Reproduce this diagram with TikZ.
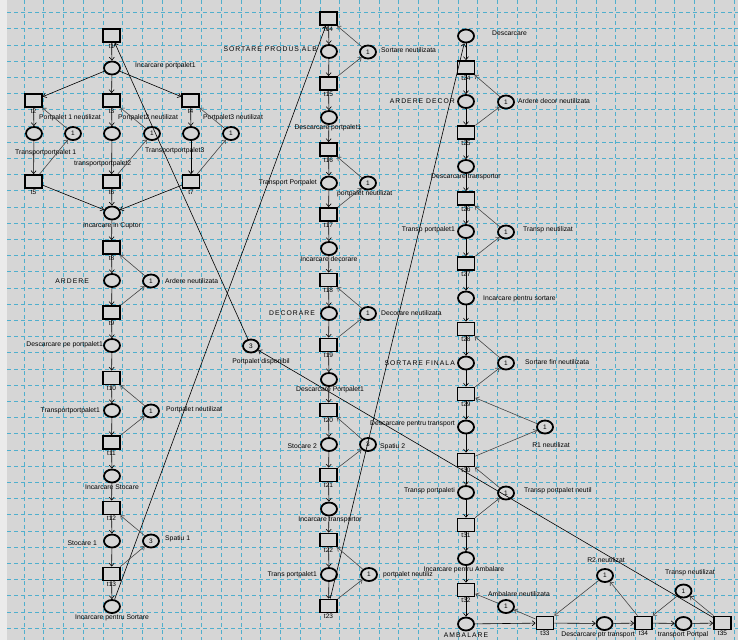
\documentclass[tikz,border=0pt]{standalone}
\usepackage{fontspec}
\setmainfont{Liberation Sans}
\usepackage{tikz}
\usetikzlibrary{shapes.geometric,arrows.meta,positioning}
\definecolor{BgGray}{RGB}{214,214,214}
\definecolor{GridBlue}{RGB}{80,175,205}
\definecolor{ResGray}{RGB}{70,70,70}

\tikzset{
  place/.style={ellipse,draw,fill=BgGray,line width=1.8pt,minimum width=16pt,minimum height=13pt,inner sep=0pt,
    font=\fontsize{6.5}{7}\selectfont},
  trans/.style={rectangle,draw,fill=BgGray,line width=1.8pt,minimum width=17pt,minimum height=13pt,inner sep=0pt},
  tlab/.style={font=\fontsize{6.5}{7}\selectfont,inner sep=0.6pt},
  lab/.style={font=\fontsize{6.8}{8}\selectfont,inner sep=0pt},
  caps/.style={lab,font=\fontsize{6.8}{8}\selectfont\addfontfeature{LetterSpace=15}},
  arc/.style={-{Straight Barb[length=3pt,width=5pt]},line width=0.6pt},
  rarc/.style={arc,ResGray},
  gridline/.style={GridBlue,line width=0.6pt,dash pattern=on 4pt off 3pt}
}

\begin{document}
\begin{tikzpicture}[x=1pt,y=-1pt]
\useasboundingbox(0,0)rectangle(738,640);
\fill[BgGray](0,0)rectangle(738,640);
\fill[black!8](0,0)rectangle(7,640);
\foreach \i in {0,...,36}{
  \draw[gridline]({24+19.72*\i},0)--++(0,640);
}
\foreach \i in {0,...,38}{
  \draw[gridline](7,{12.5+16.2*\i})--(738,{12.5+16.2*\i});
}

% transitions
\foreach \n/\x/\y in {1/111.5/35.5,2/33.5/100.5,3/111.5/100.5,4/190.5/100.5,5/33.5/181.5,6/111.5/181.5,
  7/191/181.5,8/111.5/247.5,9/111.5/312.5,10/111.5/378,11/111.5/442.5,12/111.5/508,13/111.5/574,
  14/328.5/18.5,15/328.5/83.5,16/328.5/149.5,17/328.5/214.5,18/328.5/280,19/328.5/345,20/328.5/410,
  21/328.5/475,22/328.5/540,23/328.5/606,
  24/466/67.5,25/466/132.5,26/466/198.5,27/466/263.5,28/466/329,29/466/394,30/466/460,31/466/525,
  32/466/590,33/545/623,34/643.5/623,35/722.5/623}{
  \node[trans,label={[tlab]below:t\n}](t\n)at(\x,\y){};
}

% places, column 1
\node[place](pIncPp)at(112,68){};
\node[place](pTr1)at(34,133.5){};
\node[place](pTr2)at(112,133.5){};
\node[place](pTr3)at(191,133.5){};
\node[place](rPp1)at(73,133.5){1};
\node[place](rPp2)at(152,133.5){1};
\node[place](rPp3)at(231,133.5){1};
\node[place](pCuptor)at(112,213){};
\node[place](pArd)at(112,280.5){};
\node[place](rArd)at(151,281){1};
\node[place](pDesc)at(112,345.5){};
\node[place](pTrp)at(112,410.5){};
\node[place](rPp)at(151,411){1};
\node[place](pIncSt)at(112,476){};
\node[place](pSt1)at(112,541){};
\node[place](rSp1)at(151,541){3};
\node[place](pIncSort)at(112,606.5){};
\node[place](rPpDisp)at(251,346){3};
% places, column 2
\node[place](pSortAlb)at(329,51.5){};
\node[place](rSort)at(368,52){1};
\node[place](pDescPp)at(329,117.5){};
\node[place](pTrPp)at(329,183){};
\node[place](rPpB)at(368,183){1};
\node[place](pIncDec)at(329,248.5){};
\node[place](pDec)at(329,313.5){};
\node[place](rDec)at(368,313.5){1};
\node[place](pDescPpB)at(329,379.5){};
\node[place](pSt2)at(329,444.5){};
\node[place](rSp2)at(368,444.5){3};
\node[place](pIncTr)at(329,509){};
\node[place](pTransPp)at(329,574.5){};
\node[place](rPpC)at(369,574.5){1};
% places, column 3
\node[place](pDescC)at(466,36){};
\node[place](pArdDec)at(466,101.5){};
\node[place](rArdDec)at(506,102){1};
\node[place](pDescTr)at(466,166.5){};
\node[place](pTrpPp)at(466,231.5){};
\node[place](rTrp)at(506,232){1};
\node[place](pIncSortB)at(466,298){};
\node[place](pSortFin)at(466,363){};
\node[place](rSortFin)at(506,363){1};
\node[place](pDescTrp)at(466,427){};
\node[place](rR1)at(545,427){1};
\node[place](pTrpPps)at(466,492.5){};
\node[place](rTrpPp)at(506,493){1};
\node[place](pIncAmb)at(466,558.5){};
\node[place](pAmb)at(466,624){};
\node[place](rAmb)at(506,606.5){1};
\node[place](pDescPtr)at(604.5,623.5){};
\node[place](rR2)at(605,575.5){1};
\node[place](pTrpPal)at(683.5,623.5){};
\node[place](rTrpB)at(683.5,591){1};

% labels
\node[lab,anchor=west](lIncPp)at(135,66){Incarcare portpalet1};
\node[lab,anchor=west](lRPp1)at(39,118){Portpalet 1 neutilizat};
\node[lab,anchor=west](lRPp2)at(118,118){Portpalet2 neutilizat};
\node[lab,anchor=west](lRPp3)at(203,118){Portpalet3 neutilizat};
\node[lab,anchor=west](lTr1)at(15,153){Transportportpalet 1};
\node[lab,anchor=west](lTr2)at(74,164){transportportpalet2};
\node[lab,anchor=west](lTr3)at(145,151){Transportportpalet3};
\node[lab](lCuptor)at(112,226){Incarcare in Cuptor};
\node[caps,anchor=east](lArd)at(89,281){ARDERE};
\node[lab,anchor=west](lRArd)at(165,281){Ardere neutilizata};
\node[lab,anchor=east](lDesc)at(103,345){Descarcare pe portpalet1};
\node[lab,anchor=east](lTrp)at(100,411){Transportportpalet1};
\node[lab,anchor=west](lRPp)at(166,410){Portpalet neutilizat};
\node[lab](lIncSt)at(112,487){Incarcare Stocare};
\node[lab,anchor=east](lSt1)at(97,543){Stocare 1};
\node[lab,anchor=west](lSp1)at(165,539){Spatiu 1};
\node[lab](lIncSort)at(112,618){Incarcare pentru Sortare};
\node[lab](lPpDisp)at(261,362){Portpalet disponibil};
\node[caps,anchor=east](lSortAlb)at(317,49){SORTARE PRODUS ALB};
\node[lab,anchor=west](lRSort)at(381,50){Sortare neutilizata};
\node[lab](lDescPp)at(328,128){Descarcare portpalet1};
\node[lab,anchor=east](lTrPp)at(317,183){Transport Portpalet};
\node[lab,anchor=west](lRPpB)at(337,194){portpalet neutilizat};
\node[lab](lIncDec)at(329,259){Incarcare decorare};
\node[caps,anchor=east](lDec)at(315,313){DECORARE};
\node[lab,anchor=west](lRDec)at(381,313){Decorare neutilizata};
\node[lab](lDescPpB)at(330,390){Descarcare Portpalet1};
\node[lab,anchor=east](lSt2)at(317,446){Stocare 2};
\node[lab,anchor=west](lSp2)at(380,447){Spatiu 2};
\node[lab](lIncTr)at(330,520){Incarcare transportor};
\node[lab,anchor=east](lTransPp)at(317,575){Trans portpalet1};
\node[lab,anchor=west](lRPpC)at(383,575){portpalet neutiliz};
\node[lab,anchor=west](lDescC)at(492,33){Descarcare};
\node[caps,anchor=east](lArdDec)at(455,101){ARDERE DECOR};
\node[lab,anchor=west](lRArdDec)at(518,101){Ardere decor neutilizata};
\node[lab](lDescTr)at(466,177){Descarcare transportor};
\node[lab,anchor=east](lTrpPp)at(455,230){Transp portpalet1};
\node[lab,anchor=west](lRTrp)at(523,230){Transp neutilizat};
\node[lab,anchor=west](lIncSortB)at(483,299){Incarcare pentru sortare};
\node[caps,anchor=east](lSortFin)at(455,363){SORTARE FINALA};
\node[lab,anchor=west](lRSortFin)at(525,362){Sortare fin neutilizata};
\node[lab,anchor=east](lDescTrp)at(455,424){Descarcare pentru transport};
\node[lab](lR1)at(551,445){R1 neutilizat};
\node[lab,anchor=east](lTrpPps)at(455,491){Transp portpaleti};
\node[lab,anchor=west](lRTrpPp)at(524,491){Transp portpalet neutil};
\node[lab](lIncAmb)at(464,570){Incarcare pentru Ambalare};
\node[caps](lAmb)at(466,635){AMBALARE};
\node[lab,anchor=west](lRAmb)at(488,594){Ambalare neutilizata};
\node[lab](lDescPtr)at(598,635){Descarcare ptr transport};
\node[lab](lR2)at(606,560){R2 neutilizat};
\node[lab](lTrpPal)at(683,635){transport Portpal};
\node[lab](lRTrpB)at(690,573){Transp neutilizat};

% flow arcs
\foreach \a/\b in {t1/pIncPp,pIncPp/t2,pIncPp/t3,pIncPp/t4,t2/pTr1,t3/pTr2,t4/pTr3,pTr1/t5,pTr2/t6,pTr3/t7,
  t5/pCuptor,t6/pCuptor,t7/pCuptor,pCuptor/t8,t8/pArd,pArd/t9,t9/pDesc,pDesc/t10,t10/pTrp,pTrp/t11,
  t11/pIncSt,pIncSt/t12,t12/pSt1,pSt1/t13,t13/pIncSort,pIncSort/t14,rPpDisp/t1,
  t14/pSortAlb,pSortAlb/t15,t15/pDescPp,pDescPp/t16,t16/pTrPp,pTrPp/t17,t17/pIncDec,pIncDec/t18,
  t18/pDec,pDec/t19,t19/pDescPpB,pDescPpB/t20,t20/pSt2,pSt2/t21,t21/pIncTr,pIncTr/t22,t22/pTransPp,
  pTransPp/t23,t23/pDescC,
  pDescC/t24,t24/pArdDec,pArdDec/t25,t25/pDescTr,pDescTr/t26,t26/pTrpPp,pTrpPp/t27,t27/pIncSortB,
  pIncSortB/t28,t28/pSortFin,pSortFin/t29,t29/pDescTrp,pDescTrp/t30,t30/pTrpPps,pTrpPps/t31,
  t31/pIncAmb,pIncAmb/t32,t32/pAmb,pAmb/t33,t33/pDescPtr,pDescPtr/t34,t34/pTrpPal,pTrpPal/t35,t35/rPpDisp}{
  \draw[arc](\a)--(\b);
}
% resource arcs
\foreach \a/\b in {rPp1/t2,t5/rPp1,rPp2/t3,t6/rPp2,rPp3/t4,t7/rPp3,rArd/t8,t9/rArd,rPp/t10,t11/rPp,
  rSp1/t12,t13/rSp1,rSort/t14,t15/rSort,rPpB/t16,t17/rPpB,rDec/t18,t19/rDec,rSp2/t20,t21/rSp2,
  rPpC/t22,t23/rPpC,rArdDec/t24,t25/rArdDec,rTrp/t26,t27/rTrp,rSortFin/t28,t29/rSortFin,rR1/t29,
  t30/rR1,rTrpPp/t30,t31/rTrpPp,rAmb/t32,t33/rAmb,rR2/t33,t34/rR2,rTrpB/t34,t35/rTrpB}{
  \draw[rarc](\a)--(\b);
}
\end{tikzpicture}
\end{document}
